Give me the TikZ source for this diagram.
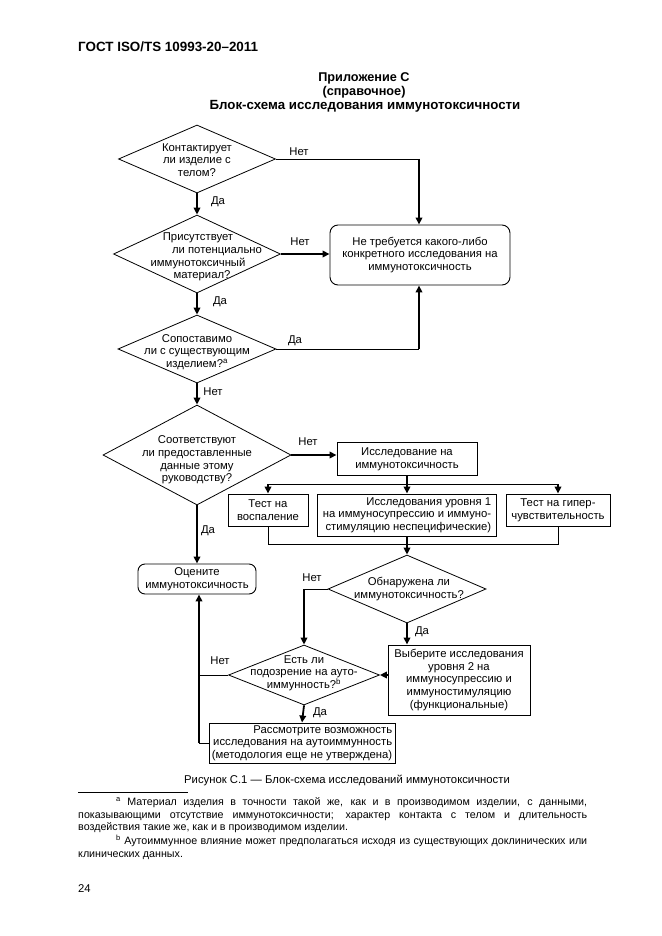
\documentclass[tikz,border=0pt]{standalone}
\usepackage{fontspec}
\setmainfont{Liberation Sans}
\usetikzlibrary{arrows.meta,shapes.geometric,calc}
\begin{document}
\begin{tikzpicture}[x=1pt,y=-1pt,
  txt/.style={font=\fontsize{11.3}{12.6}\selectfont, align=center, inner sep=0pt},
  lbl/.style={font=\fontsize{11.3}{12.6}\selectfont, inner sep=0pt},
  dia/.style={draw, diamond, inner sep=0pt, line width=0.8pt},
  box/.style={draw, rectangle, line width=0.9pt, inner sep=0pt, txt},
  rbox/.style={box, rounded corners=8pt},
  thinline/.style={line width=0.9pt},
  thickline/.style={line width=1.8pt},
  flow/.style={line width=1.8pt, -{Triangle[length=7pt,width=6.5pt]}},
  fn/.style={font=\fontsize{10.7}{12.6}\selectfont, align=justify, inner sep=0pt, text width=509pt, anchor=north west},
]
\useasboundingbox (0,0) rectangle (661,936);
\fill[white] (0,0) rectangle (661,936);

% header
\node[font=\bfseries\fontsize{13.4}{15}\selectfont, anchor=west, inner sep=0pt] (hdr) at (78,47) {ГОСТ ISO/TS 10993-20–2011};
\node[font=\bfseries\fontsize{12.7}{15}\selectfont, inner sep=0pt] (t1l) at (364,78) {Приложение С};
\node[font=\bfseries\fontsize{12.7}{15}\selectfont, inner sep=0pt] (t2l) at (364,92) {(справочное)};
\node[font=\bfseries\fontsize{13.3}{15}\selectfont, inner sep=0pt] (t3l) at (365,106) {Блок-схема исследования иммунотоксичности};

% diamonds
\node[dia, minimum width=157pt, minimum height=68pt] (d1) at (197,159) {};
\node[txt] (d1t) at (197,160) {Контактирует\\ли изделие с\\телом?};
\node[dia, minimum width=167pt, minimum height=78pt] (d2) at (197,254) {};
\node[txt] (d2t) at (198,257) {Присутствует\\\hspace*{38pt}ли потенциально\\иммунотоксичный\\\hspace*{8pt}материал?};
\node[dia, minimum width=158pt, minimum height=68pt] (d3) at (197,349) {};
\node[txt] (d3t) at (197,352) {Сопоставимо\\ли с существующим\\изделием?\textsuperscript{a}};
\node[dia, minimum width=188pt, minimum height=100pt] (d4) at (197,455) {};
\node[txt] (d4t) at (197,460) {Соответствуют\\ли предоставленные\\данные этому\\руководству?};
\node[dia, minimum width=158pt, minimum height=68pt] (d5) at (407,589) {};
\node[txt] (d5t) at (409,589) {Обнаружена ли\\иммунотоксичность?};
\node[dia, minimum width=151pt, minimum height=60pt] (d6) at (304,675) {};
\node[txt] (d6t) at (304,673) {Есть ли\\подозрение на ауто-\\иммунность?\textsuperscript{b}};

% boxes
\node[rbox, minimum width=180pt, minimum height=60pt] (nr) at (420,255) {Не требуется какого-либо\\конкретного исследования на\\иммунотоксичность};
\node[rbox, minimum width=118pt, minimum height=30pt, rounded corners=7pt] (oc) at (197,579) {Оцените\\иммунотоксичность};
\node[box, minimum width=140pt, minimum height=33pt] (ii) at (407,459) {Исследование на\\иммунотоксичность};
\node[box, minimum width=80pt, minimum height=32pt] (ta) at (268,510) {Тест на\\воспаление};
\node[box, minimum width=179pt, minimum height=42pt, align=right] (tb) at (407,515) {Исследования уровня 1\\на иммуносупрессию и иммуно-\\стимуляцию неспецифические)};
\node[box, minimum width=104pt, minimum height=32pt] (tc) at (558,510) {Тест на гипер-\\чувствительность};
\node[box, minimum width=142pt, minimum height=70pt] (vy) at (459,680) {Выберите исследования\\уровня 2 на\\иммуносупрессию и\\иммуностимуляцию\\(функциональные)};
\node[box, minimum width=186pt, minimum height=40pt, align=right] (rs) at (302,743) {Рассмотрите возможность\\исследования на аутоиммунность\\(методология еще не утверждена)};

% connectors
\coordinate (c1) at (419,159);
\coordinate (c3) at (419,349);
\draw[flow] (d1.south) -- (d2.north);
\draw[thinline] (d1.east) -- (c1);
\draw[flow] (c1) -- (c1 |- nr.north);
\draw[flow] (d2.east) -- (d2.east -| nr.west);
\draw[flow] (d2.south) -- (d3.north);
\draw[thinline] (d3.east) -- (c3);
\draw[flow] (c3) -- (c3 |- nr.south);
\draw[flow] (d3.south) -- (d4.north);
\draw[flow] (d4.east) -- (d4.east -| ii.west);
\draw[flow] (d4.south) -- (oc.north);

\coordinate (sp) at (407,484);
\draw[thickline] (ii.south) -- (sp);
\draw[thinline] (ta.north |- sp) -- (tc.north |- sp);
\draw[flow] (ta.north |- sp) -- (ta.north);
\draw[flow] (sp) -- (tb.north);
\draw[flow] (tc.north |- sp) -- (tc.north);

\coordinate (jn) at (407,544);
\draw[thinline] (ta.south) -- (ta.south |- jn) -- (tc.south |- jn) -- (tc.south);
\draw[flow] (tb.south) -- (d5.north);
\draw[flow] (d5.south) -- (d5.south |- vy.north);

\coordinate (c5) at (d5.west -| d6.north);
\draw[thinline] (d5.west) -- (c5);
\draw[flow] (c5) -- (d6.north);
\draw[flow] (vy.west |- d6.east) -- (d6.east);
\coordinate (c6) at (199,675);
\draw[thinline] (d6.west) -- (c6);
\draw[flow] (d6.south) -- (rs.north);
\coordinate (c7) at (rs.west -| c6);
\draw[thinline] (rs.west) -- (c7);
\draw[flow] (c7) -- (c7 |- oc.south);

% labels
\node[lbl] (l1) at (299,152) {Нет};
\node[lbl] (l2) at (218,202) {Да};
\node[lbl] (l3) at (300,242) {Нет};
\node[lbl] (l4) at (220,302) {Да};
\node[lbl] (l5) at (295,341) {Да};
\node[lbl] (l6) at (213,392) {Нет};
\node[lbl] (l7) at (308,442) {Нет};
\node[lbl] (l8) at (208,531) {Да};
\node[lbl] (l9) at (312,578) {Нет};
\node[lbl] (l10) at (422,632) {Да};
\node[lbl] (l11) at (220,661) {Нет};
\node[lbl] (l12) at (320,713) {Да};

% caption and footnotes
\node[font=\fontsize{11.3}{13}\selectfont, inner sep=0pt] (cap) at (347,780) {Рисунок С.1 — Блок-схема исследований иммунотоксичности};
\coordinate (r1) at (78,792);
\coordinate (r2) at (188,792);
\draw[line width=0.7pt] (r1) -- (r2);
\node[fn] (fa) at (78,797.5) {\hspace*{38pt}\textsuperscript{a} Материал изделия в точности такой же, как и в производимом изделии, с данными,\linebreak показывающими отсутствие иммунотоксичности; характер контакта с телом и длительность\linebreak воздействия такие же, как и в производимом изделии.};
\node[fn] (fb) at (78,835) {\hspace*{38pt}\textsuperscript{b} Аутоиммунное влияние может предполагаться исходя из существующих доклинических или\linebreak клинических данных.};
\node[font=\fontsize{11.3}{13}\selectfont, anchor=west, inner sep=0pt] (pg) at (78,889) {24};
\end{tikzpicture}
\end{document}
